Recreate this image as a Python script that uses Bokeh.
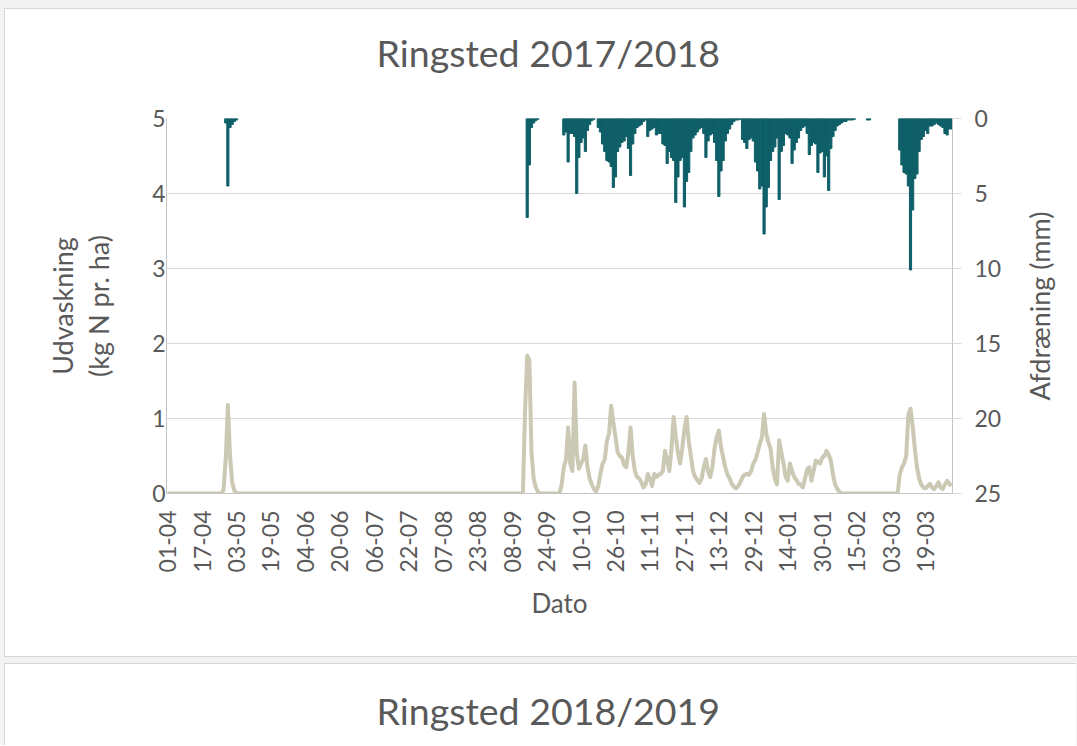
import math
import pandas as pd
from bokeh.plotting import figure
from bokeh.layouts import row, column
from bokeh.models import Range1d, LinearAxis, FixedTicker, Title, ColumnDataSource
from bokeh.embed import file_html
from bokeh.resources import INLINE

# ---------------------------------------------------------------------------
# Data: daily values, Ringsted 01-04-2017 .. 31-03-2018
# ---------------------------------------------------------------------------
season_start = "2017-04-01"
season_days = 365

tick_labels = ["01-04", "17-04", "03-05", "19-05", "04-06", "20-06", "06-07",
               "22-07", "07-08", "23-08", "08-09", "24-09", "10-10", "26-10",
               "11-11", "27-11", "13-12", "29-12", "14-01", "30-01", "15-02",
               "03-03", "19-03"]

left_ticks = [0, 1, 2, 3, 4, 5]          # kg N pr. ha
right_ticks = [0, 5, 10, 15, 20, 25]     # mm

# Drainage (mm/day), runs of consecutive days starting at the given date
drain_apr_start = "2017-04-28"
drain_apr = [0.3, 4.5, 0.6, 0.4, 0.2, 0.1]

drain_sep_start = "2017-09-15"
drain_sep = [6.6, 3.1, 0.6, 0.3, 0.15, 0.05]

drain_winter_start = "2017-10-02"
drain_winter = [
    1.1, 0.9, 2.9, 1.0, 1.0, 1.2, 5.0, 2.6, 1.6, 1.3,
    2.2, 0.8, 0.4, 0.15, 0.05, 0.0, 0.6, 0.9, 1.7, 2.2,
    2.8, 2.9, 3.2, 4.6, 3.9, 2.2, 1.9, 1.6, 1.5, 1.2,
    2.0, 3.8, 1.7, 1.0, 0.6, 0.5, 0.4, 0.2, 0.1, 1.2,
    0.8, 0.7, 0.6, 1.1, 1.0, 1.0, 1.7, 1.8, 3.0, 2.2,
    2.6, 2.8, 5.6, 3.9, 2.8, 2.6, 5.9, 4.2, 3.6, 2.2,
    1.3, 1.1, 0.9, 0.7, 0.6, 1.0, 2.6, 1.5, 1.1, 1.0,
    1.6, 2.8, 5.2, 3.5, 2.8, 1.5, 1.0, 0.7, 0.4, 0.2,
    0.1, 0.1, 0.05, 1.4, 1.6, 2.0, 1.4, 1.3, 1.5, 2.9,
    3.5, 4.7, 4.5, 7.7, 5.9, 4.6, 2.8, 2.2, 1.9, 1.3,
    5.4, 2.2, 1.8, 1.0, 1.1, 1.3, 3.0, 2.1, 1.6, 1.3,
    0.8, 0.6, 0.5, 1.0, 2.4, 1.8, 1.6, 1.7, 3.6, 2.3,
    2.2, 3.9, 2.5, 4.8, 2.0, 1.2, 0.8, 0.5, 0.4, 0.3,
    0.2, 0.2, 0.1, 0.1, 0.1, 0.05, 0.0, 0.0, 0.0, 0.0,
    0.0, 0.1, 0.1,
]

drain_mar_start = "2018-03-07"
drain_mar = [2.1, 3.1, 3.6, 3.7, 4.5, 10.1, 6.1, 4.0, 3.7, 2.2,
             1.4, 1.2, 0.8, 1.0, 0.5, 0.5, 0.4, 0.3, 0.4, 0.5,
             0.6, 1.0, 1.1, 0.7, 0.7]

# Nitrogen leaching (kg N pr. ha per day)
leach_apr_start = "2017-04-27"
leach_apr = [0.05, 0.45, 1.18, 0.5, 0.15, 0.04]

leach_winter_start = "2017-09-13"
leach_winter = [
    0.0, 1.1, 1.84, 1.78, 0.55, 0.2, 0.08, 0.02, 0.0, 0.0,
    0.0, 0.0, 0.0, 0.0, 0.0, 0.0, 0.0, 0.0, 0.12, 0.35,
    0.45, 0.88, 0.4, 0.3, 1.48, 0.55, 0.33, 0.4, 0.45, 0.64,
    0.35, 0.2, 0.12, 0.06, 0.03, 0.1, 0.26, 0.4, 0.45, 0.7,
    0.8, 1.17, 0.95, 0.75, 0.55, 0.5, 0.48, 0.38, 0.35, 0.55,
    0.88, 0.5, 0.3, 0.22, 0.2, 0.15, 0.08, 0.12, 0.26, 0.2,
    0.1, 0.26, 0.22, 0.25, 0.26, 0.3, 0.57, 0.45, 0.3, 0.6,
    1.02, 0.75, 0.55, 0.4, 0.6, 0.85, 1.02, 0.7, 0.5, 0.3,
    0.22, 0.18, 0.14, 0.2, 0.35, 0.46, 0.3, 0.22, 0.35, 0.6,
    0.75, 0.84, 0.62, 0.48, 0.35, 0.25, 0.2, 0.13, 0.09, 0.07,
    0.1, 0.15, 0.22, 0.25, 0.26, 0.25, 0.3, 0.4, 0.45, 0.55,
    0.66, 0.75, 1.06, 0.8, 0.68, 0.6, 0.35, 0.2, 0.12, 0.71,
    0.55, 0.4, 0.22, 0.17, 0.4, 0.3, 0.22, 0.18, 0.13, 0.12,
    0.08, 0.2, 0.32, 0.35, 0.17, 0.3, 0.44, 0.42, 0.4, 0.48,
    0.5, 0.57, 0.52, 0.44, 0.25, 0.12, 0.06, 0.02,
]

leach_mar_start = "2018-03-06"
leach_mar = [0.0, 0.25, 0.35, 0.4, 0.5, 1.05, 1.13, 0.9, 0.6, 0.35,
             0.2, 0.12, 0.08, 0.07, 0.1, 0.13, 0.08, 0.06, 0.1, 0.15,
             0.08, 0.06, 0.12, 0.17, 0.13, 0.1]

# ---------------------------------------------------------------------------
# Build the daily series
# ---------------------------------------------------------------------------
dates = pd.date_range(season_start, periods=season_days, freq="D")


def daily(runs):
    values = [0.0] * season_days
    for start, vals in runs:
        i0 = dates.get_loc(pd.Timestamp(start))
        for k, v in enumerate(vals):
            values[i0 + k] = v
    return values


drain = daily([(drain_apr_start, drain_apr), (drain_sep_start, drain_sep),
               (drain_winter_start, drain_winter), (drain_mar_start, drain_mar)])
leach = daily([(leach_apr_start, leach_apr), (leach_winter_start, leach_winter),
               (leach_mar_start, leach_mar)])

day_no = list(range(season_days))
day_labels = list(dates.strftime("%d-%m"))
tick_days = [day_labels.index(t) for t in tick_labels]

bars = ColumnDataSource(dict(
    x=[d for d, v in zip(day_no, drain) if v > 0],
    mm=[v for v in drain if v > 0],
))
line = ColumnDataSource(dict(x=day_no, kg=leach))

# ---------------------------------------------------------------------------
# Styling
# ---------------------------------------------------------------------------
FONT = "Lato"
TXT = "#595959"
GRID = "#d9d9d9"
AXIS = "#c4c4c4"
TEAL = "#0f5f68"
SAND = "#cbc8b3"
PANEL_EDGE = "1px solid #d6d6d6"

CANVAS_H = 647
TOP, BOTTOM = 109, 163          # frame spans 375 px vertically

p = figure(width=1012, height=CANVAS_H,
           x_range=Range1d(-0.5, season_days - 0.5),
           y_range=Range1d(0, 5),
           output_backend="svg", toolbar_location=None,
           min_border_left=161, min_border_right=65,
           min_border_top=TOP, min_border_bottom=BOTTOM,
           background_fill_color="white", border_fill_color="white",
           outline_line_color=None)
p.extra_y_ranges = {"mm": Range1d(start=25, end=0)}

# Drainage bars hang from the top on the reversed mm axis
p.vbar(x="x", top=0, bottom="mm", width=1.0, source=bars,
       y_range_name="mm", fill_color=TEAL, line_color=TEAL, line_width=1)
# Leaching line on the kg N axis
p.line(x="x", y="kg", source=line, line_color=SAND, line_width=4,
       line_join="round")

# Title, lifted above the plot by a blank spacer title underneath it
p.add_layout(Title(text=" ", text_font_size="1px", standoff=39), "above")
p.title.text = "Ringsted 2017/2018"
p.title.align = "left"
p.title.offset = 210
p.title.text_font = FONT
p.title.text_font_size = "37.5px"
p.title.text_font_style = "normal"
p.title.text_color = TXT
p.title.vertical_align = "top"
p.title.standoff = 0

# Left axis
ya = p.yaxis[0]
ya.ticker = FixedTicker(ticks=left_ticks)
ya.axis_label = "Udvaskning\n(kg N pr. ha)"
ya.axis_label_text_font = FONT
ya.axis_label_text_font_size = "27px"
ya.axis_label_text_line_height = 1.1
ya.axis_label_text_font_style = "normal"
ya.axis_label_text_color = TXT
ya.axis_label_standoff = 34
ya.major_label_text_font = FONT
ya.major_label_text_font_size = "23px"
ya.major_label_text_color = TXT
ya.major_label_standoff = 1
ya.major_tick_out = 0
ya.major_tick_in = 0
ya.major_tick_line_color = None
ya.minor_tick_line_color = None
ya.axis_line_color = AXIS

# Right axis (mm, reversed); its title sits in the strip to the right
ra = LinearAxis(y_range_name="mm", ticker=FixedTicker(ticks=right_ticks))
ra.major_label_text_font = FONT
ra.major_label_text_font_size = "23px"
ra.major_label_text_color = TXT
ra.major_label_standoff = 13
ra.major_tick_line_color = GRID
ra.major_tick_out = 9
ra.major_tick_in = 0
ra.minor_tick_line_color = None
ra.axis_line_color = AXIS
p.add_layout(ra, "right")

# Bottom axis (dates)
xa = p.xaxis[0]
xa.ticker = FixedTicker(ticks=tick_days)
xa.major_label_overrides = {d: t for d, t in zip(tick_days, tick_labels)}
xa.major_label_orientation = math.pi / 2
xa.major_label_text_font = FONT
xa.major_label_text_font_size = "23px"
xa.major_label_text_color = TXT
xa.major_label_standoff = 17
xa.major_tick_out = 0
xa.major_tick_in = 0
xa.major_tick_line_color = None
xa.minor_tick_line_color = None
xa.axis_line_color = AXIS
xa.axis_label = "Dato"
xa.axis_label_text_font = FONT
xa.axis_label_text_font_size = "26px"
xa.axis_label_text_font_style = "normal"
xa.axis_label_text_color = TXT
xa.axis_label_standoff = 12

p.xgrid.visible = False
p.ygrid.grid_line_color = GRID
p.ygrid.grid_line_width = 1

# Right-hand axis title, reading bottom to top
side = figure(width=60, height=CANVAS_H, x_axis_type=None, y_axis_type=None,
              output_backend="svg", toolbar_location=None,
              min_border_left=39, min_border_right=0,
              min_border_top=TOP, min_border_bottom=BOTTOM,
              background_fill_color="white", border_fill_color="white",
              outline_line_color=None)
side.add_layout(Title(text="Afdræning (mm)", align="center",
                      vertical_align="middle", standoff=0,
                      text_font=FONT, text_font_size="27px",
                      text_font_style="normal", text_color=TXT), "left")

# Heading of the next season's chart below
nxt = figure(width=1072, height=82, x_axis_type=None, y_axis_type=None,
             output_backend="svg", toolbar_location=None,
             min_border_left=161, min_border_right=125,
             min_border_top=80, min_border_bottom=0,
             background_fill_color="white", border_fill_color="white",
             outline_line_color=None,
             margin=(6, 0, 0, 4),
             styles={"border-left": PANEL_EDGE, "border-top": PANEL_EDGE,
                     "background-color": "white"})
nxt.title.text = "Ringsted 2018/2019"
nxt.title.align = "left"
nxt.title.offset = 210
nxt.title.text_font = FONT
nxt.title.text_font_size = "37.5px"
nxt.title.text_font_style = "normal"
nxt.title.text_color = TXT
nxt.title.vertical_align = "top"
nxt.title.standoff = 20

top_panel = row(p, side, margin=(8, 0, 0, 4),
                styles={"border-left": PANEL_EDGE, "border-top": PANEL_EDGE,
                        "border-bottom": PANEL_EDGE,
                        "background-color": "white"})
page = column(top_panel, nxt, styles={"background-color": "#f3f3f3"})

open("out.html", "w").write(file_html(page, INLINE))
